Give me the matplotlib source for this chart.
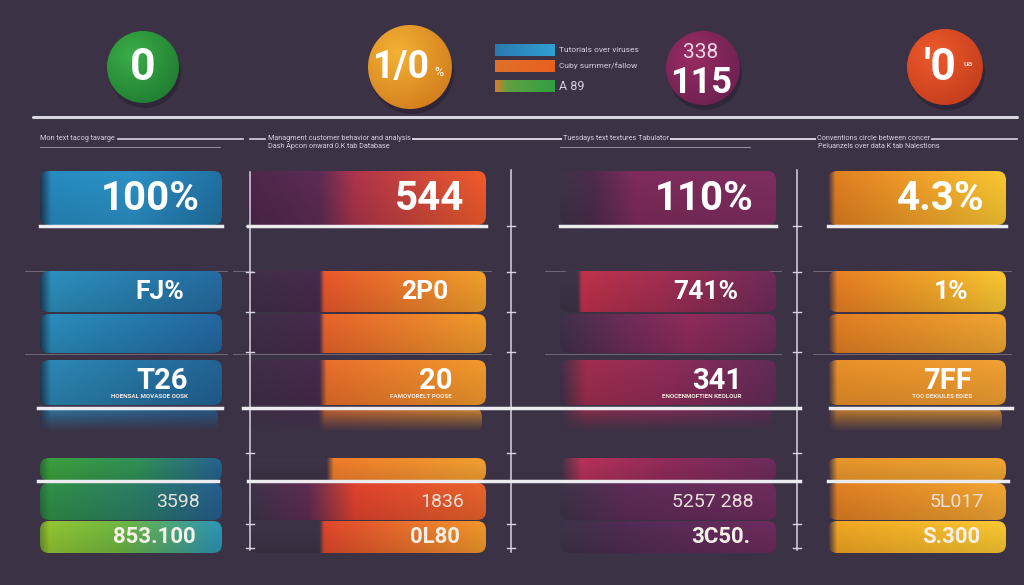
import numpy as np
import matplotlib.pyplot as plt
from matplotlib.patches import FancyBboxPatch, Circle
from matplotlib.colors import to_rgb

# ---- data ----
circle_labels = ["0", "1/0", "115", "'0"]
circle_small = ["", "%", "338", "ua"]
legend_labels = ["Tutorials over viruses", "Cuby summer/fallow", "A 89"]
header_left = ["Mon text tacog tavarge", "Managment customer behavior and analysis",
               "Tuesdays text textures Tabulator", "Conventions circle between concer"]
header_sub = ["Dash Apcon onward 0.K tab Database", "Peluanzels over data K tab Nalestions"]
top_values = ["100%", "544", "110%", "4.3%"]
mid_values = ["FJ%", "2P0", "741%", "1%"]
low_values = ["T26", "20", "341", "7FF"]
low_notes = ["HOENSAL MOVASOE OOSK", "FAMOVORELT POOSE", "ENOCENMOFTIEN KEOLOUR", "TOO DEKIULES EDIES"]
sum_a = ["3598", "1836", "5257 288", "5L017"]
sum_b = ["853.100", "0L80", "3C50.", "S.300"]

BG = "#3b3245"
FONT = ["Roboto", "DejaVu Sans"]

# gradient stops for every bar, column by column, row by row
stops = [
    [[(0, '#1d3550'), (0.06, '#2586b8'), (0.5, '#2a8cbf'), (1, '#1f6d9d')],
     [(0, '#1d3a55'), (0.06, '#2a8ab5'), (1, '#24679a')],
     [(0, '#1d3a55'), (0.06, '#2888b5'), (1, '#22639a')],
     [(0, '#1d3a55'), (0.06, '#2a82ad'), (1, '#215f90')],
     [(0, '#2a6a38'), (0.05, '#3a9a3c'), (0.55, '#2f8a55'), (1, '#245e8c')],
     [(0, '#256a40'), (0.05, '#2e8a45'), (0.5, '#2a7a60'), (1, '#245a8a')],
     [(0, '#6a8a2a'), (0.05, '#8cbf30'), (0.45, '#6ab040'), (1, '#2a90b0')]],
    [[(0, '#4a2648'), (0.3, '#5a2a52'), (0.45, '#a83248'), (1, '#e8582a')],
     [(0, '#3d2d45'), (0.3, '#45294a'), (0.32, '#e0542a'), (1, '#e89a2a')],
     [(0, '#3d2d45'), (0.3, '#45294a'), (0.32, '#e0602a'), (1, '#e8962a')],
     [(0, '#3d2d45'), (0.3, '#45294a'), (0.33, '#e06a2a'), (1, '#e8942a')],
     [(0, BG), (0.33, BG), (0.36, '#e8782a'), (1, '#e89a30')],
     [(0, BG), (0.25, '#5a2a50'), (0.45, '#d8402c'), (1, '#e0602a')],
     [(0, BG), (0.3, BG), (0.32, '#d8452a'), (1, '#e8922a')]],
    [[(0, BG), (0.15, '#4a2a48'), (0.35, '#7a2a58'), (1, '#7a2c5c')],
     [(0, BG), (0.08, BG), (0.1, '#b83048'), (0.5, '#9a2c50'), (1, '#6a2a55')],
     [(0, '#3d2f48'), (0.3, '#6a2a55'), (0.6, '#8a2a58'), (1, '#6a2a55')],
     [(0, '#3d2f48'), (0.12, '#9a2c4c'), (0.5, '#8a2a55'), (1, '#5e2a55')],
     [(0, BG), (0.1, '#b03055'), (0.5, '#8a2a58'), (1, '#6a2a58')],
     [(0, BG), (0.3, '#5a2a55'), (1, '#6a2a5a')],
     [(0, BG), (0.3, '#4d2a50'), (1, '#6a2a5a')]],
    [[(0, BG), (0.04, '#d87a20'), (0.5, '#e89a28'), (1, '#f0c030')],
     [(0, BG), (0.05, '#e07a22'), (0.6, '#e8a028'), (1, '#f0c030')],
     [(0, BG), (0.05, '#d97a22'), (1, '#e8a030')],
     [(0, BG), (0.05, '#e08a28'), (1, '#e89a30')],
     [(0, BG), (0.05, '#e0902a'), (1, '#e8a030')],
     [(0, BG), (0.05, '#d87a22'), (1, '#e8a030')],
     [(0, BG), (0.05, '#e8a022'), (1, '#f0c030')]],
]

circle_colors = [('#3aae48', '#1f7a30'), ('#f4b234', '#d07a1c'),
                 ('#9a2c62', '#6a2050'), ('#ee5a2c', '#c23c1c')]

# layout (pixels)
col_x = [(40, 222), (248, 486), (560, 776), (828, 1006)]
rows = [(171, 225), (271, 312), (314, 353), (360, 405), (458, 481), (483, 520), (521, 553)]
circles = [(143, 67, 36), (410, 67, 42), (703, 68, 37), (945, 67, 38)]

fig = plt.figure(figsize=(10.24, 5.85), dpi=100)
fig.patch.set_facecolor(BG)
ax = fig.add_axes([0, 0, 1, 1])
ax.set_xlim(0, 1024)
ax.set_ylim(585, 0)
ax.axis('off')
ax.set_facecolor(BG)


def ramp(st, n=256):
    xs = np.linspace(0, 1, n)
    pos = [p for p, _ in st]
    cols = np.array([to_rgb(c) for _, c in st])
    return np.stack([np.interp(xs, pos, cols[:, k]) for k in range(3)], axis=-1)


def bar(x0, x1, y0, y1, st, fade=False):
    line = ramp(st)
    h = 24
    shade = np.linspace(1.04, 0.92, h)[:, None, None]
    img = np.clip(line[None, :, :] * shade, 0, 1)
    if fade:
        a = np.linspace(0.8, 0.0, h)[:, None, None] * np.ones((h, 256, 1))
        img = np.concatenate([img, a], axis=-1)
    im = ax.imshow(img, extent=(x0, x1, y1, y0), aspect='auto', zorder=2,
                   interpolation='bilinear')
    p = FancyBboxPatch((x0, y0), x1 - x0, y1 - y0,
                       boxstyle="round,pad=0,rounding_size=9",
                       fc='none', ec='none', transform=ax.transData)
    ax.add_patch(p)
    im.set_clip_path(p)


# circles with a soft radial shading
for (cx, cy, r), (c1, c2) in zip(circles, circle_colors):
    ax.add_patch(Circle((cx + 2, cy + 5), r, fc='#241c2c', ec='none', alpha=0.5, zorder=1))
    gx, gy = np.meshgrid(np.linspace(-1, 1, 120), np.linspace(-1, 1, 120))
    d = np.clip(np.hypot(gx + 0.3, gy + 0.35) / 1.6, 0, 1)[..., None]
    img = (1 - d) * np.array(to_rgb(c1)) + d * np.array(to_rgb(c2))
    im = ax.imshow(img, extent=(cx - r, cx + r, cy + r, cy - r), zorder=2)
    cp = Circle((cx, cy), r, fc='none', ec='none')
    ax.add_patch(cp)
    im.set_clip_path(cp)

ax.text(143, 68, circle_labels[0], color='white', fontsize=32, fontweight='bold',
        ha='center', va='center', family=FONT, zorder=5)
ax.text(401, 68, circle_labels[1], color='white', fontsize=27, fontweight='bold',
        ha='center', va='center', family=FONT, zorder=5)
ax.text(439, 72, circle_small[1], color='white', fontsize=9, ha='center', va='center',
        family=FONT, zorder=5)
ax.text(701, 52, circle_small[2], color='#e8d8e8', fontsize=15, ha='center', va='center',
        family=FONT, zorder=5)
ax.text(701, 83, circle_labels[2], color='white', fontsize=26, fontweight='bold',
        ha='center', va='center', family=FONT, zorder=5)
ax.text(940, 68, circle_labels[3], color='white', fontsize=32, fontweight='bold',
        ha='center', va='center', family=FONT, zorder=5)
ax.text(968, 64, circle_small[3], color='white', fontsize=6, ha='center', va='center',
        family=FONT, zorder=5)

# legend
leg_stops = [[(0, '#2a7ab0'), (1, '#30a0d0')], [(0, '#e0702a'), (1, '#e8601e')],
             [(0, '#e07a2a'), (0.2, '#60a040'), (1, '#30a040')]]
for (y0, y1), st, lab, fs in zip([(44, 56), (60, 72), (80, 92)], leg_stops, legend_labels, [6, 6, 9]):
    ax.imshow(ramp(st)[None], extent=(495, 555, y1, y0), aspect='auto', zorder=2)
    ax.text(559, (y0 + y1) / 2, lab, color='#d8d0e0', fontsize=fs, va='center',
            ha='left', family=FONT)

# header rules and captions
ax.plot([33, 1017], [117, 117], color='#d8d4e0', lw=2.2, solid_capstyle='round')
ax.plot([118, 243], [139, 139], color='#d8d4e0', lw=1.2)
ax.plot([250, 265], [139, 139], color='#d8d4e0', lw=1.2)
ax.plot([400, 820], [139, 139], color='#d8d4e0', lw=1.2)
ax.plot([410, 1017], [139, 139], color='#d8d4e0', lw=1.2)
ax.plot([40, 220], [147, 147], color='#a8a0b0', lw=0.6)
ax.plot([560, 750], [147, 147], color='#a8a0b0', lw=0.6)
for x, t in zip([40, 268, 563, 817], header_left):
    ax.text(x, 139, t, color='#d8d0e0', fontsize=5.2, va='center', ha='left', family=FONT,
            bbox=dict(fc=BG, ec='none', pad=0.6), zorder=3)
ax.text(268, 147, header_sub[0], color='#d8d0e0', fontsize=5.2, va='center', ha='left',
        family=FONT, zorder=3)
ax.text(818, 147, header_sub[1], color='#d8d0e0', fontsize=5.2, va='center', ha='left',
        family=FONT, zorder=3)

# bars
for ci, (x0, x1) in enumerate(col_x):
    for ri, (y0, y1) in enumerate(rows):
        bar(x0, x1, y0, y1, stops[ci][ri])
    bar(x0, x1 - 4, 408, 432, stops[ci][3], fade=True)

# values on bars
for ci, (x0, x1) in enumerate(col_x):
    ax.text(x1 - 22, 199, top_values[ci], color='white', fontsize=29, fontweight='bold',
            ha='right', va='center', family=FONT, zorder=5)
    ax.text(x1 - 38, 292, mid_values[ci], color='white', fontsize=19, fontweight='bold',
            ha='right', va='center', family=FONT, zorder=5)
    ax.text(x1 - 34, 381, low_values[ci], color='white', fontsize=21, fontweight='bold',
            ha='right', va='center', family=FONT, zorder=5)
    ax.text(x1 - 34, 397, low_notes[ci], color='#f0e8e0', fontsize=4.5, fontweight='bold',
            ha='right', va='center', family=FONT, zorder=5)
    ax.text(x1 - 22, 502, sum_a[ci], color='#e8e0d8', fontsize=14,
            ha='right', va='center', family=FONT, zorder=5)
    ax.text(x1 - 26, 537, sum_b[ci], color='#f4f0e8', fontsize=16, fontweight='bold',
            ha='right', va='center', family=FONT, zorder=5)

# white rules under the rows
W = '#ecebf0'
for (x0, x1) in col_x:
    ax.plot([x0, x1], [226, 226], color=W, lw=2.5, zorder=4)
ax.plot([38, 222], [408, 408], color=W, lw=2.5, zorder=4)
ax.plot([243, 800], [408, 408], color=W, lw=2.5, zorder=4)
ax.plot([830, 1012], [408, 408], color=W, lw=2.5, zorder=4)
ax.plot([38, 218], [481, 481], color=W, lw=2.5, zorder=4)
ax.plot([248, 800], [481, 481], color=W, lw=2.5, zorder=4)
ax.plot([828, 1008], [481, 481], color=W, lw=2.5, zorder=4)
for y in [271, 354]:
    for (x0, x1) in col_x:
        ax.plot([x0 - 15, x1 + 5], [y, y], color='#b0a8b8', lw=0.7, alpha=0.45, zorder=1)
ax.plot([265, 300], [524, 524], color='#b0a8b8', lw=0.7, alpha=0.6, zorder=1)

# vertical guides with small ticks
for x, (ya, yb) in zip([250, 511, 797], [(172, 550), (170, 552), (170, 550)]):
    ax.plot([x, x], [ya, yb], color='#d8d4e0', lw=1.1, zorder=3)
    for y in [226, 272, 312, 352, 453, 524, 548]:
        ax.plot([x - 4, x + 4], [y, y], color='#d8d4e0', lw=1.0, zorder=3)

fig.savefig('out.png', dpi=100, facecolor=BG)
